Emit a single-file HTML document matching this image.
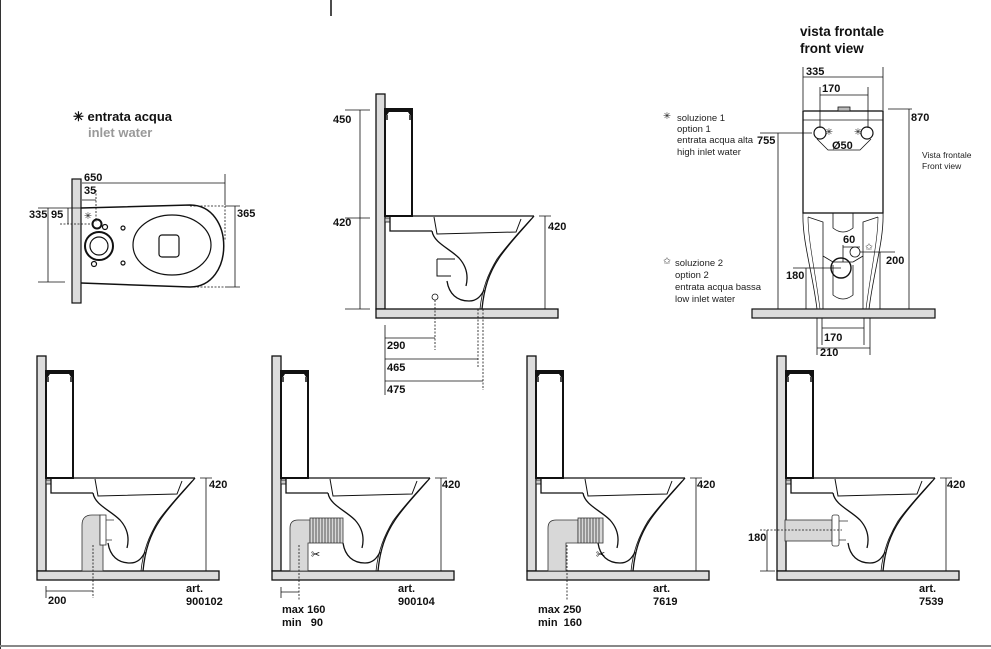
<!DOCTYPE html>
<html><head><meta charset="utf-8"><style>
html,body{margin:0;padding:0;background:#fff;}
svg{display:block;font-family:"Liberation Sans",Arial,sans-serif;}
.b{font-weight:bold;font-size:11px;fill:#111;}
.s{font-size:9.5px;fill:#222;}
</style></head><body>
<svg width="991" height="649" viewBox="0 0 991 649" xmlns="http://www.w3.org/2000/svg">
<defs>
<g id="T" fill="none" stroke="#111" stroke-width="1.3">
  <rect x="37" y="356" width="9" height="215" fill="#dcdcdc"/>
  <rect x="37" y="571" width="182" height="9" fill="#dcdcdc"/>
  <rect x="46" y="371" width="27" height="107" fill="#fff" stroke-width="2"/>
  <path d="M46 371 h27 v6 h-2 l-2 -3 h-19 l-2 3 h-2z" fill="#111" stroke="none"/>
  <path d="M48 377 v5 M71 377 v5" stroke-width="1.5"/>
  <path d="M46 478 H195"/>
  <rect x="46" y="480" width="5" height="4" fill="#ccc" stroke-width="0.8"/>
  <path d="M51 479 V493 H93"/>
  <path d="M93 493 C95 505 110 510 120 520 C129 530 129 540 127 548"/>
  <path d="M108 543 C110 556 118 563 130 563 C138 563 142 558 145 552"/>
  <path d="M195 478 C185 490 170 505 160 520 C150 535 145 550 143 571"/>
  <path d="M192 481 C182 492 168 507 158 521 C149 536 143 551 141 571" stroke-width="0.8"/>
  <path d="M95 479 L98 496 L177 494 L182 481" stroke-width="1"/>
  <path d="M206 478 V571 M200 478 H212" stroke-width="0.8"/>
</g>
</defs>

<line x1="0.5" y1="0" x2="0.5" y2="649" stroke="#333" stroke-width="1"/>
<line x1="331" y1="0" x2="331" y2="16" stroke="#111" stroke-width="1.5"/>
<line x1="0" y1="646" x2="991" y2="646" stroke="#888" stroke-width="2"/>

<!-- plan view -->
<text x="73" y="121" class="b" style="font-size:13px">✳ entrata acqua</text>
<text x="88" y="137" style="font-size:13px;font-weight:bold;fill:#999">inlet water</text>
<g fill="none" stroke="#111" stroke-width="1.2">
  <rect x="72" y="179" width="9" height="124" fill="#dcdcdc"/>
  <path d="M81 208 L190 205 C235 205 235 287 190 287 L81 283" stroke-width="1.5"/>
  <ellipse cx="172" cy="245" rx="39" ry="30"/>
  <rect x="159" y="235" width="20" height="22" rx="3"/>
  <circle cx="99" cy="246" r="14" stroke-width="2"/>
  <circle cx="99" cy="246" r="9"/>
  <circle cx="97" cy="224" r="4.5" stroke-width="2"/>
  <circle cx="105" cy="227" r="2.5"/>
  <circle cx="123" cy="228" r="2"/>
  <circle cx="123" cy="263" r="2"/>
  <circle cx="94" cy="264" r="2.5"/>
  <path d="M82 183 H225 M225 174 V205 M38 208 H81 M48 208 V282 M38 282 H65 M68 208 V224 M82 200 H96 M235 206 V287 M225 206 H240 M225 287 H240" stroke-width="0.8"/>
  <path d="M96 190 V222 M60 224 H93 M190 206 H225 M190 287 H225 M225 206 V240" stroke-width="0.8" stroke-dasharray="2,1.5"/>
</g>
<text x="84" y="181" class="b">650</text>
<text x="84" y="194" class="b">35</text>
<text x="29" y="218" class="b">335</text>
<text x="51" y="218" class="b">95</text>
<text x="84" y="219" class="s">✳</text>
<text x="237" y="217" class="b">365</text>

<!-- side views -->
<use href="#T" transform="translate(339,-262)"/>
<use href="#T"/>
<use href="#T" transform="translate(235,0)"/>
<use href="#T" transform="translate(490,0)"/>
<use href="#T" transform="translate(740,0)"/>

<!-- center dims -->
<g fill="none" stroke="#111" stroke-width="0.8">
  <path d="M437 259 H455 M437 259 V276 H451" stroke-width="1"/>
  <path d="M360 110 V309 M345 110 H370 M345 218 H370 M345 309 H370"/>
  <circle cx="435" cy="297" r="3"/>
  <path d="M385 325 V395 M385 338 H435 M385 359 H478 M385 381 H483"/>
  <path d="M435 300 V350 M478 309 V368 M483 309 V390" stroke-dasharray="2,1.5"/>
</g>
<text x="333" y="123" class="b">450</text>
<text x="333" y="226" class="b">420</text>
<text x="548" y="230" class="b">420</text>
<text x="387" y="349" class="b">290</text>
<text x="387" y="371" class="b">465</text>
<text x="387" y="393" class="b">475</text>

<!-- pipes -->
<g stroke="#333" stroke-width="0.8" fill="#d8d8d8">
  <path d="M82 571 V525 Q82 515 92 515 H100 V545 H103 V571 Z"/>
  <rect x="100" y="515" width="6" height="30" fill="#fff"/>
  <path d="M106 520 H114 M106 540 H112" fill="none"/>
  <path d="M290 571 V528 Q290 520 298 520 H310 V543 H308 V571 Z"/>
  <rect x="310" y="518" width="33" height="25"/>
  <path d="M313 518 V543 M316 518 V543 M319 518 V543 M322 518 V543 M325 518 V543 M328 518 V543 M331 518 V543 M334 518 V543 M337 518 V543 M340 518 V543" fill="none"/>
  <path d="M548 571 V528 Q548 520 556 520 H578 V543 H566 V571 Z"/>
  <rect x="578" y="518" width="25" height="25"/>
  <path d="M581 518 V543 M584 518 V543 M587 518 V543 M590 518 V543 M593 518 V543 M596 518 V543 M599 518 V543" fill="none"/>
  <rect x="785" y="520" width="47" height="21"/>
  <rect x="832" y="515" width="7" height="31" rx="2" fill="#fff"/>
  <path d="M839 521 H848 M839 540 H846" fill="none"/>
</g>
<g fill="none" stroke="#111" stroke-width="0.8">
  <path d="M46 591 H93 M46 586 V598"/>
  <path d="M93 545 V598 M299 545 V600 M567 545 V600" stroke-dasharray="2,1.5"/>
  <path d="M281 592 H299 M281 587 V598"/>
  <path d="M767 530 V571 M760 571 H775"/>
  <path d="M760 530 H842" stroke-dasharray="2,1.5"/>
</g>
<text x="311" y="558" style="font-size:11px">✂</text>
<text x="596" y="558" style="font-size:11px">✂</text>
<text x="48" y="604" class="b">200</text>
<text x="186" y="592" class="b">art.</text><text x="186" y="605" class="b">900102</text>
<text x="398" y="592" class="b">art.</text><text x="398" y="605" class="b">900104</text>
<text x="653" y="592" class="b">art.</text><text x="653" y="605" class="b">7619</text>
<text x="919" y="592" class="b">art.</text><text x="919" y="605" class="b">7539</text>
<text x="282" y="613" class="b">max 160</text><text x="282" y="626" class="b">min&#160;&#160;&#160;90</text>
<text x="538" y="613" class="b">max 250</text><text x="538" y="626" class="b">min&#160;&#160;160</text>
<text x="442" y="488" class="b">420</text>
<text x="209" y="488" class="b">420</text>
<text x="697" y="488" class="b">420</text>
<text x="947" y="488" class="b">420</text>
<text x="748" y="541" class="b">180</text>

<!-- front view -->
<text x="800" y="36" class="b" style="font-size:13.5px">vista frontale</text>
<text x="800" y="53" class="b" style="font-size:13.5px">front view</text>
<g fill="none" stroke="#111" stroke-width="0.8">
  <path d="M803 67 V110 M883 67 V110 M803 77 H883 M820 87 V128 M868 87 V128 M820 95 H868"/>
  <rect x="803" y="111" width="80" height="102" stroke-width="1.3"/>
  <path d="M803 120 H883"/>
  <rect x="838" y="107" width="12" height="4" fill="#bbb"/>
  <circle cx="820" cy="133" r="6" stroke-width="1.2"/>
  <circle cx="867" cy="133" r="6" stroke-width="1.2"/>
  <path d="M817 139 L828 150 H860 L871 139"/>
  <path d="M778 133 V309 M760 133 H812 M888 109 H912 M909 109 V309"/>
  <path d="M803 213 C802 240 812 270 817 309 M883 213 C884 240 874 270 869 309"/>
  <path d="M808 217 C808 240 815 270 820 309 M878 217 C878 240 871 270 866 309" stroke-width="0.6"/>
  <path d="M808 217 L823 222 V309 M878 217 L863 222 V309 M833 213 V228 Q843 236 853 228 V213"/>
  <path d="M823 256 L833 262 M863 256 L853 262 M833 262 H853 M833 265 V295 Q843 303 853 295 V265"/>
  <circle cx="841" cy="268" r="10" stroke-width="1.4"/>
  <circle cx="855" cy="252" r="5"/>
  <path d="M843 245 V262 M843 247 H860 M860 252 H895 M880 252 V309 M793 268 H841 M806 268 V309"/>
  <rect x="752" y="309" width="183" height="9" fill="#dcdcdc" stroke-width="1.2"/>
  <path d="M822 318 V345 M864 318 V345 M822 328 H864 M817 318 V355 M870 318 V355 M817 348 H870"/>
</g>
<text x="806" y="75" class="b">335</text>
<text x="822" y="92" class="b">170</text>
<text x="911" y="121" class="b">870</text>
<text x="757" y="144" class="b">755</text>
<text x="832" y="149" class="b">Ø50</text>
<text x="825" y="135" class="s">✳</text>
<text x="854" y="135" class="s">✳</text>
<text x="843" y="243" class="b">60</text>
<text x="865" y="250" class="s">✩</text>
<text x="886" y="264" class="b">200</text>
<text x="786" y="279" class="b">180</text>
<text x="824" y="341" class="b">170</text>
<text x="820" y="356" class="b">210</text>
<text x="922" y="158" class="s" style="font-size:8.5px">Vista frontale</text>
<text x="922" y="169" class="s" style="font-size:8.5px">Front view</text>
<text x="663" y="119" class="s">✳</text>
<text x="677" y="121" class="s">soluzione 1</text>
<text x="677" y="132" class="s">option 1</text>
<text x="677" y="143" class="s">entrata acqua alta</text>
<text x="677" y="155" class="s">high inlet water</text>
<text x="663" y="264" class="s">✩</text>
<text x="675" y="266" class="s">soluzione 2</text>
<text x="675" y="278" class="s">option 2</text>
<text x="675" y="290" class="s">entrata acqua bassa</text>
<text x="675" y="302" class="s">low inlet water</text>
</svg>
</body></html>
